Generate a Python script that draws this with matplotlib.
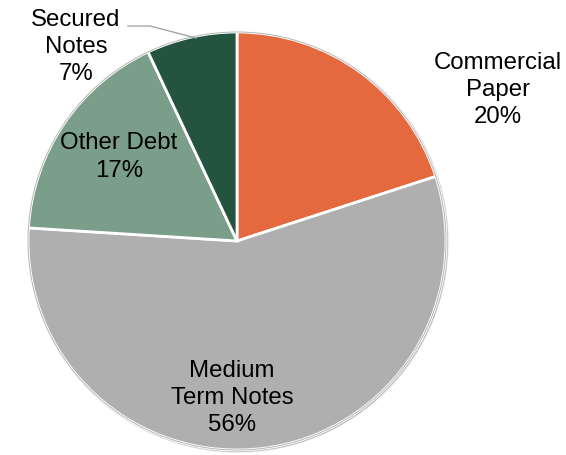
import matplotlib
matplotlib.use("Agg")
import matplotlib.pyplot as plt
from matplotlib.patches import Circle

plt.rcParams['font.family'] = ['Liberation Sans', 'DejaVu Sans']

categories = ["Commercial\nPaper", "Medium\nTerm Notes", "Other Debt", "Secured\nNotes"]
shares = [20, 56, 17, 7]
colors = ["#E4693F", "#AFAFAF", "#7A9E89", "#245440"]

W, H = 566, 455
fig = plt.figure(figsize=(W / 100, H / 100), dpi=100)
ax = fig.add_axes([0, 0, 1, 1])

cx, cy, r = 237, H - 241, 209

# soft drop shadow under the pie
for i, a in enumerate([0.05, 0.07, 0.09]):
    ax.add_patch(Circle((cx + 1.0, cy - 1.0), r + 1.2 - i * 0.5, color="#000000", alpha=a, zorder=0))

wedges, _ = ax.pie(shares, colors=colors, startangle=90, counterclock=False,
                   center=(cx, cy), radius=r, frame=True,
                   wedgeprops=dict(edgecolor="white", linewidth=2.0))
for w in wedges:
    w.set_zorder(1)

# thin darker rim
ax.add_patch(Circle((cx, cy), r, fill=False, edgecolor="#6E6E6E", lw=0.7, alpha=0.5, zorder=2))

ax.set_xlim(0, W)
ax.set_ylim(0, H)
ax.set_aspect("equal")
ax.axis("off")

label_pos = [(498, H - 90), (232, H - 398), (119, H - 157), (76, H - 47)]
for name, val, (x, y) in zip(categories, shares, label_pos):
    ax.text(x, y, f"{name}\n{val}%", ha="center", va="center", fontsize=17.3,
            linespacing=1.32, color="black", zorder=5)

# leader line for the small slice
ax.plot([128, 150, 196], [H - 26, H - 26, H - 38], color="#A6A6A6", lw=1, zorder=4)

fig.savefig("out.png", dpi=100)
